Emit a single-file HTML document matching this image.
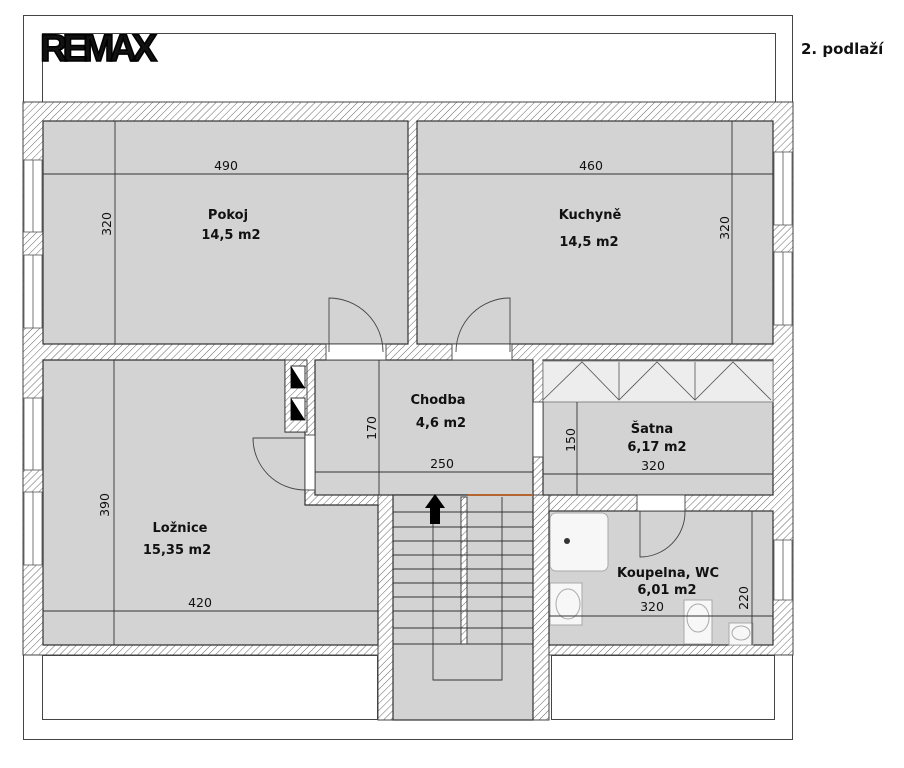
<!DOCTYPE html>
<html><head><meta charset="utf-8"><style>
html,body{margin:0;padding:0;background:#fff;width:904px;height:768px;overflow:hidden}
svg{display:block}
text{font-family:"DejaVu Sans","Liberation Sans",sans-serif;fill:#111}
.b{font-weight:bold;font-size:13px}
.d{font-size:12.5px}
</style></head><body>
<svg width="904" height="768" viewBox="0 0 904 768" xmlns="http://www.w3.org/2000/svg">
<defs>
<pattern id="h" width="5" height="5" patternUnits="userSpaceOnUse" patternTransform="rotate(45)">
<rect width="5" height="5" fill="#fff"/><line x1="0" y1="0" x2="0" y2="5" stroke="#666" stroke-width="1"/>
</pattern>
</defs>
<rect x="23.5" y="15.5" width="769" height="724" fill="#fff" stroke="#444"/>
<polyline points="42.5,102 42.5,33.5 775.5,33.5 775.5,102" fill="none" stroke="#444"/>
<text x="40" y="61" style="font-family:'Liberation Sans',sans-serif;font-weight:bold;font-size:38px;letter-spacing:-5px;stroke:#000;stroke-width:1.6" fill="#000">REMAX</text>
<text x="801" y="54" style="font-weight:bold;font-size:15px">2. podlaží</text>
<rect x="23" y="102" width="770" height="553" fill="url(#h)" stroke="#444"/>
<rect x="378" y="495" width="171" height="225" fill="url(#h)" stroke="#444"/>
<rect x="42.5" y="655.5" width="335" height="64" fill="#fff" stroke="#444"/>
<rect x="551.5" y="655.5" width="223" height="64" fill="#fff" stroke="#444"/>
<g fill="#d3d3d3" stroke="#333" stroke-width="1.2">
<rect x="43" y="121" width="365" height="223"/>
<rect x="417" y="121" width="356" height="223"/>
<path d="M43 360 H285 V432 H305 V505 H378 V645 H43 Z"/>
<rect x="315" y="360" width="218" height="135"/>
<rect x="543" y="360" width="230" height="135"/>
<rect x="549" y="511" width="224" height="134"/>
<rect x="393" y="495" width="140" height="225"/>
</g>
<rect x="543" y="361" width="230" height="41" fill="#ededed" stroke="#888"/>
<g stroke="#555" fill="none" stroke-width="0.8">
<polyline points="543,400 582,362 619,400 657,362 695,400 733,362 771,400"/>
<line x1="619" y1="362" x2="619" y2="400"/><line x1="695" y1="362" x2="695" y2="400"/>
</g>
<rect x="285" y="360" width="22" height="72" fill="url(#h)" stroke="#444"/>
<rect x="291" y="366" width="14" height="22" fill="#fff" stroke="#333"/><path d="M291 366 L305 388 L291 388Z" fill="#000"/>
<rect x="291" y="398" width="14" height="22" fill="#fff" stroke="#333"/><path d="M291 398 L305 420 L291 420Z" fill="#000"/>
<g fill="#fff" stroke="#555" stroke-width="0.8">
<rect x="24" y="160" width="18" height="72"/><line x1="33" y1="160" x2="33" y2="232"/>
<rect x="24" y="255" width="18" height="73"/><line x1="33" y1="255" x2="33" y2="328"/>
<rect x="24" y="398" width="18" height="72"/><line x1="33" y1="398" x2="33" y2="470"/>
<rect x="24" y="492" width="18" height="73"/><line x1="33" y1="492" x2="33" y2="565"/>
<rect x="774" y="152" width="18" height="73"/><line x1="783" y1="152" x2="783" y2="225"/>
<rect x="774" y="252" width="18" height="73"/><line x1="783" y1="252" x2="783" y2="325"/>
<rect x="774" y="540" width="18" height="60"/><line x1="783" y1="540" x2="783" y2="600"/>
</g>
<g fill="#fff" stroke="#444" stroke-width="0.9">
<rect x="326" y="344" width="60" height="16"/>
<rect x="452" y="344" width="60" height="16"/>
<rect x="305" y="435" width="10" height="55"/>
<rect x="637" y="495" width="48" height="16"/>
<rect x="533" y="402" width="10" height="55"/>
</g>
<g fill="none" stroke="#444" stroke-width="0.9">
<path d="M329 352 V298 A54 54 0 0 1 383 352"/>
<path d="M510 352 V298 A54 54 0 0 0 456 352"/>
<path d="M305 438 H253 A52 52 0 0 0 305 490"/>
<path d="M640 511 V557 A45 45 0 0 0 685 511"/>
</g>
<rect x="461" y="497" width="6" height="147" fill="url(#h)" stroke="#444"/>
<g stroke="#333" stroke-width="0.9">
<line x1="393" y1="512" x2="533" y2="512"/><line x1="393" y1="527" x2="533" y2="527"/>
<line x1="393" y1="541" x2="533" y2="541"/><line x1="393" y1="555" x2="533" y2="555"/>
<line x1="393" y1="569" x2="533" y2="569"/><line x1="393" y1="583" x2="533" y2="583"/>
<line x1="393" y1="597" x2="533" y2="597"/><line x1="393" y1="611" x2="533" y2="611"/>
<line x1="393" y1="628" x2="533" y2="628"/><line x1="393" y1="644" x2="533" y2="644"/>
<polyline points="433,590 433,680 502,680 502,497" fill="none"/>
<line x1="433" y1="500" x2="433" y2="590"/>
</g>
<line x1="468" y1="495" x2="533" y2="495" stroke="#b5652f" stroke-width="2"/>
<path d="M430 524 V508 H425 L435 494 L445 508 H440 V524Z" fill="#000"/>
<g fill="#f7f7f7" stroke="#aaa">
<rect x="550" y="513" width="58" height="58" rx="6"/>
<rect x="550" y="583" width="32" height="42"/><ellipse cx="568" cy="604" rx="12" ry="15"/>
<rect x="684" y="600" width="28" height="44"/><ellipse cx="698" cy="618" rx="11" ry="14"/>
<rect x="729" y="623" width="24" height="22"/><ellipse cx="741" cy="633" rx="9" ry="7"/>
</g>
<circle cx="567" cy="541" r="3" fill="#333"/>
<g stroke="#333" stroke-width="0.9">
<line x1="43" y1="174" x2="408" y2="174"/><line x1="115" y1="121" x2="115" y2="344"/>
<line x1="417" y1="174" x2="773" y2="174"/><line x1="732" y1="121" x2="732" y2="344"/>
<line x1="114" y1="360" x2="114" y2="645"/><line x1="43" y1="611" x2="378" y2="611"/>
<line x1="379" y1="360" x2="379" y2="495"/><line x1="315" y1="472" x2="533" y2="472"/>
<line x1="577" y1="402" x2="577" y2="495"/><line x1="543" y1="474" x2="773" y2="474"/>
<line x1="752" y1="511" x2="752" y2="645"/><line x1="549" y1="616" x2="773" y2="616"/>
</g>
<text class="d" x="226" y="170" text-anchor="middle">490</text>
<text class="d" x="591" y="170" text-anchor="middle">460</text>
<text class="d" x="200" y="607" text-anchor="middle">420</text>
<text class="d" x="442" y="468" text-anchor="middle">250</text>
<text class="d" x="653" y="470" text-anchor="middle">320</text>
<text class="d" x="652" y="611" text-anchor="middle">320</text>
<text class="d" transform="translate(111 224) rotate(-90)" text-anchor="middle">320</text>
<text class="d" transform="translate(729 228) rotate(-90)" text-anchor="middle">320</text>
<text class="d" transform="translate(109 505) rotate(-90)" text-anchor="middle">390</text>
<text class="d" transform="translate(376 428) rotate(-90)" text-anchor="middle">170</text>
<text class="d" transform="translate(575 440) rotate(-90)" text-anchor="middle">150</text>
<text class="d" transform="translate(748 598) rotate(-90)" text-anchor="middle">220</text>
<text class="b" x="228" y="219" text-anchor="middle">Pokoj</text>
<text class="b" x="231" y="239" text-anchor="middle">14,5 m2</text>
<text class="b" x="590" y="219" text-anchor="middle">Kuchyně</text>
<text class="b" x="589" y="246" text-anchor="middle">14,5 m2</text>
<text class="b" x="438" y="404" text-anchor="middle">Chodba</text>
<text class="b" x="441" y="427" text-anchor="middle">4,6 m2</text>
<text class="b" x="652" y="433" text-anchor="middle">Šatna</text>
<text class="b" x="657" y="451" text-anchor="middle">6,17 m2</text>
<text class="b" x="668" y="577" text-anchor="middle">Koupelna, WC</text>
<text class="b" x="667" y="594" text-anchor="middle">6,01 m2</text>
<text class="b" x="180" y="532" text-anchor="middle">Ložnice</text>
<text class="b" x="177" y="554" text-anchor="middle">15,35 m2</text>
</svg>
</body></html>
